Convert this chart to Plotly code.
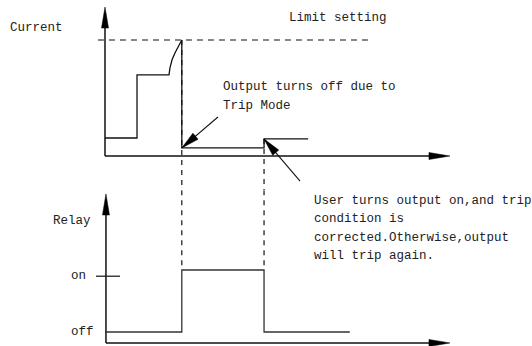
import math
import plotly.graph_objects as go

# ---------------- data (arbitrary time / level units) ----------------
current_t = [0, 2.0, 2.0, 4.0, 4.06, 4.19, 4.38, 4.56, 4.8, 4.8, 9.94, 9.94, 12.7]
current_i = [1.55, 1.55, 7.0, 7.0, 7.6, 8.3, 8.9, 9.4, 10.0, 0.7, 0.7, 1.47, 1.47]
relay_t = [0, 4.8, 4.8, 9.94, 9.94, 15.3]
relay_state = [0, 0, 1, 1, 0, 0]
limit_level = 10.0
limit_span = [-0.44, 16.75]
trip_time = 4.8
reset_time = 9.94
relay_tick_labels = ["off", "on"]
relay_tick_values = [0, 0.9]

texts_top = [
    ("Current", -6.06, 11.03),
    ("Limit setting", 11.375, 11.9),
    ("Output turns off due to", 7.25, 5.95),
    ("Trip Mode", 7.25, 4.35),
]
texts_bottom = [
    ("User turns output on,and trip", 12.93, 2.11),
    ("condition is", 12.93, 1.815),
    ("corrected.Otherwise,output", 12.93, 1.52),
    ("will trip again.", 12.93, 1.225),
    ("Relay", -3.4, 1.79),
]

# ---------------- geometry ----------------
W, H = 532, 346
X_PX = 16.0      # px per time unit
Y1_PX = 11.6     # px per current unit
Y2_PX = 62.0     # px per relay unit
X_RANGE = [-105 / X_PX, (W - 105) / X_PX]
SPLIT = 0.45
top_h = H * (1 - SPLIT)
Y1_RANGE = [(156 - top_h) / Y1_PX, 156 / Y1_PX]
bot_top = top_h
Y2_RANGE = [(332 - H) / Y2_PX, (332 - bot_top) / Y2_PX]

x_tip = 21.56
y1_tip = 12.84
y2_tip = 2.226
y2_axis = -0.177
x2_axis = 0.06

FONT = dict(family="Liberation Mono, Courier New, monospace", size=12.5, color="#222")
LINE = "#111"

fig = go.Figure()

def seg(xs, ys, yaxis="y", dash="solid", width=1.3, color=LINE):
    fig.add_trace(go.Scatter(x=xs, y=ys, mode="lines", yaxis=yaxis, xaxis="x",
                             line=dict(color=color, width=width, dash=dash),
                             hoverinfo="skip", showlegend=False))

# axes lines
seg([0, 0], [0, y1_tip - 1], width=1.5)
seg([0, x_tip - 1], [0, 0], width=1.5)
seg([x2_axis, x2_axis], [y2_axis, y2_tip - 0.1], yaxis="y2", width=1.5)
seg([x2_axis, x_tip - 1], [y2_axis, y2_axis], yaxis="y2", width=1.5)

# limit dashed line
seg(limit_span, [limit_level, limit_level], dash="6px,5px", width=1.2)

# dashed verticals
seg([trip_time, trip_time], [limit_level, Y1_RANGE[0]], dash="5px,5px", width=1.2)
seg([trip_time, trip_time], [Y2_RANGE[1], 1], yaxis="y2", dash="5px,5px", width=1.2)
seg([reset_time, reset_time], [current_i[-1], Y1_RANGE[0]], dash="5px,5px", width=1.2)
seg([reset_time, reset_time], [Y2_RANGE[1], 1], yaxis="y2", dash="5px,5px", width=1.2)

# waveforms
seg(current_t, current_i, width=1.3)
seg(relay_t, relay_state, yaxis="y2", width=1.3, color="#333")

# "on" tick
seg([-0.56, 0.94], [relay_tick_values[1], relay_tick_values[1]], yaxis="y2", width=1.2)

# leader lines
leaders = [((7.06, 3.36), (trip_time, current_i[9])),
           ((12.19, -2.16), (reset_time, current_i[-1]))]
for (tx, ty), (hx, hy) in leaders:
    seg([tx, hx], [ty, hy], width=1.1)

shapes = []

def head(xa, ya, yref, dx_px, dy_px, L, Wd):
    n = math.hypot(dx_px, dy_px)
    ux, uy = dx_px / n, dy_px / n
    px, py = -uy, ux
    bx, by = -ux * L, -uy * L
    p1 = (bx + px * Wd / 2, by + py * Wd / 2)
    p2 = (bx - px * Wd / 2, by - py * Wd / 2)
    path = f"M0,0 L{p1[0]:.2f},{p1[1]:.2f} L{p2[0]:.2f},{p2[1]:.2f} Z"
    shapes.append(dict(type="path", xref="x", yref=yref, xsizemode="pixel",
                       ysizemode="pixel", xanchor=xa, yanchor=ya, path=path,
                       fillcolor="black", line=dict(color="black", width=0.5)))

head(0, y1_tip, "y", 0, 1, 21, 7)
head(x_tip, 0, "y", 1, 0, 21, 7)
head(x2_axis, y2_tip, "y2", 0, 1, 21, 7)
head(x_tip, y2_axis, "y2", 1, 0, 21, 7)
for (tx, ty), (hx, hy) in leaders:
    head(hx, hy, "y", (hx - tx) * X_PX, (hy - ty) * Y1_PX, 18, 8)

annotations = []
for t, x, y in texts_top:
    annotations.append(dict(text=t, x=x, y=y, xref="x", yref="y", xanchor="left",
                            yanchor="middle", showarrow=False, font=FONT))
for t, x, y in texts_bottom:
    annotations.append(dict(text=t, x=x, y=y, xref="x", yref="y2", xanchor="left",
                            yanchor="middle", showarrow=False, font=FONT))
for lab, v in zip(relay_tick_labels, relay_tick_values):
    annotations.append(dict(text=lab, x=-2.25, y=v, xref="x", yref="y2", xanchor="left",
                            yanchor="middle", showarrow=False, font=FONT))

hidden = dict(visible=False, showgrid=False, zeroline=False, fixedrange=True)
fig.update_layout(
    width=W, height=H, margin=dict(l=0, r=0, t=0, b=0),
    paper_bgcolor="white", plot_bgcolor="white",
    xaxis=dict(range=X_RANGE, **hidden),
    yaxis=dict(range=Y1_RANGE, domain=[SPLIT, 1], **hidden),
    yaxis2=dict(range=Y2_RANGE, domain=[0, SPLIT], **hidden),
    shapes=shapes, annotations=annotations, showlegend=False,
)

fig.write_html("out.html", config={"displayModeBar": False},
               post_script="document.body.style.margin='0';document.body.style.overflow='hidden';")
